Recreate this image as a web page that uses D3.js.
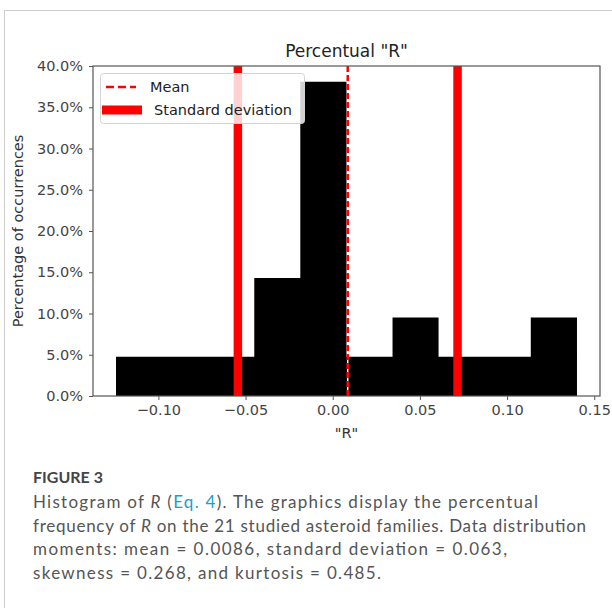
<!DOCTYPE html>
<html>
<head>
<meta charset="utf-8">
<script src="https://cdn.jsdelivr.net/npm/d3@7/dist/d3.min.js"></script>
<style>
  html, body { margin: 0; padding: 0; background: #fff; }
  svg { display: block; }
</style>
</head>
<body>
<svg id="chart" width="612" height="608"></svg>
<script>
// ---- data ----
const binEdges = [-0.1243, -0.0979, -0.0714, -0.0450, -0.0186, 0.0079, 0.0343, 0.0607, 0.0872, 0.1136, 0.1401];
const percentages = [4.76, 4.76, 4.76, 14.29, 38.10, 4.76, 9.52, 4.76, 4.76, 9.52];
const meanValue = 0.0086;
const stdLines = [-0.0544, 0.0716];
const xTicks = [-0.10, -0.05, 0.00, 0.05, 0.10, 0.15];
const yTicks = [0, 5, 10, 15, 20, 25, 30, 35, 40];
const legendLabels = ["Mean", "Standard deviation"];
const titleText = 'Percentual "R"';
const xLabel = '"R"';
const yLabel = "Percentage of occurrences";

const svg = d3.select("#chart");
const mplFont = "'DejaVu Sans', sans-serif";

// outer frame of the figure panel
svg.append("rect").attr("x", 4.5).attr("y", 10.5).attr("width", 700).attr("height", 700)
  .attr("fill", "none").attr("stroke", "#cfcfcf").attr("stroke-width", 1);

const x = d3.scaleLinear().domain([-0.1375, 0.1533]).range([93, 600]);
const y = d3.scaleLinear().domain([0, 40]).range([396, 66]);

const bins = percentages.map((p, i) => ({ x0: binEdges[i], x1: binEdges[i + 1], p }));

// bars drawn as one stepped histogram outline (no seams between bins)
const stepPts = [];
bins.forEach(b => { stepPts.push([b.x0, b.p]); });
stepPts.push([bins[bins.length - 1].x1, bins[bins.length - 1].p]);
const area = d3.area()
  .x(d => x(d[0])).y0(y(0)).y1(d => y(d[1]))
  .curve(d3.curveStepAfter);
svg.append("path").datum(stepPts).attr("d", area).attr("fill", "#000");

// std lines
svg.append("g").selectAll("line").data(stdLines).join("line")
  .attr("x1", d => x(d)).attr("x2", d => x(d))
  .attr("y1", y(0)).attr("y2", y(40))
  .attr("stroke", "#ff0000").attr("stroke-width", 8.5);

// mean line
svg.append("line").attr("x1", x(meanValue)).attr("x2", x(meanValue))
  .attr("y1", y(0)).attr("y2", y(40))
  .attr("stroke", "#fff").attr("stroke-width", 1.5);
svg.append("line").attr("x1", x(meanValue)).attr("x2", x(meanValue))
  .attr("y1", y(0)).attr("y2", y(40))
  .attr("stroke", "#ff0000").attr("stroke-width", 2.5).attr("stroke-dasharray", "6,3");

// axes
const axisColor = "#555";
const xAxis = svg.append("g").attr("transform", `translate(0,${y(0)})`)
  .call(d3.axisBottom(x).tickValues(xTicks).tickFormat(d3.format(".2f")).tickSizeOuter(0).tickSize(4).tickPadding(5));
const yAxis = svg.append("g").attr("transform", `translate(${x.range()[0]},0)`)
  .call(d3.axisLeft(y).tickValues(yTicks).tickFormat(d => d.toFixed(1) + "%").tickSizeOuter(0).tickSize(4).tickPadding(6));
[xAxis, yAxis].forEach(g => {
  g.select(".domain").remove();
  g.selectAll(".tick line").attr("stroke", axisColor);
  g.selectAll(".tick text").attr("fill", "#444").style("font-family", mplFont).style("font-size", "14.5px");
});

// spines
svg.append("rect").attr("x", x.range()[0]).attr("y", y(40))
  .attr("width", x.range()[1] - x.range()[0]).attr("height", y(0) - y(40))
  .attr("fill", "none").attr("stroke", axisColor).attr("stroke-width", 1.2);

// title and labels
svg.append("text").attr("x", (x.range()[0] + x.range()[1]) / 2).attr("y", 57)
  .attr("text-anchor", "middle").attr("fill", "#222")
  .style("font-family", mplFont).style("font-size", "17px").text(titleText);
svg.append("text").attr("x", (x.range()[0] + x.range()[1]) / 2).attr("y", 438)
  .attr("text-anchor", "middle").attr("fill", "#333")
  .style("font-family", mplFont).style("font-size", "14.5px").text(xLabel);
svg.append("text").attr("transform", `translate(18,${(y(0) + y(40)) / 2}) rotate(-90)`)
  .attr("text-anchor", "middle").attr("dominant-baseline", "central").attr("fill", "#333")
  .style("font-family", mplFont).style("font-size", "14.5px").text(yLabel);

// legend
const lg = svg.append("g");
lg.append("rect").attr("x", 100.5).attr("y", 73.5).attr("width", 204).attr("height", 50).attr("rx", 3)
  .attr("fill", "rgba(255,255,255,0.82)").attr("stroke", "#d4d4d4").attr("stroke-width", 1);
lg.append("line").attr("x1", 106).attr("x2", 136).attr("y1", 87).attr("y2", 87)
  .attr("stroke", "#ff0000").attr("stroke-width", 2.5).attr("stroke-dasharray", "8,4");
lg.append("line").attr("x1", 102).attr("x2", 142).attr("y1", 110).attr("y2", 110)
  .attr("stroke", "#ff0000").attr("stroke-width", 9);
lg.append("text").attr("x", 150).attr("y", 92).attr("fill", "#222")
  .style("font-family", mplFont).style("font-size", "14.5px").text(legendLabels[0]);
lg.append("text").attr("x", 154).attr("y", 115).attr("fill", "#222")
  .style("font-family", mplFont).style("font-size", "14.5px").text(legendLabels[1]);

// caption
const capFont = "Lato, 'Open Sans', sans-serif";
const capColor = "#555";
svg.append("text").attr("x", 33).attr("y", 483).attr("fill", "#444")
  .style("font-family", capFont).style("font-size", "16px").style("font-weight", "bold").text("FIGURE 3");

const capLines = [
  { y: 508, len: 505, parts: [["Histogram of ", null], ["R", "i"], [" (", null], ["Eq. 4", "link"], ["). The graphics display the percentual", null]] },
  { y: 531.5, len: 553, parts: [["frequency of ", null], ["R", "i"], [" on the 21 studied asteroid families. Data distribution", null]] },
  { y: 555, len: 474, parts: [["moments: mean = 0.0086, standard deviation = 0.063,", null]] },
  { y: 578.5, len: 348, parts: [["skewness = 0.268, and kurtosis = 0.485.", null]] }
];
capLines.forEach(line => {
  const t = svg.append("text").attr("x", 33).attr("y", line.y).attr("fill", capColor)
    .attr("textLength", line.len).attr("lengthAdjust", "spacing")
    .style("font-family", capFont).style("font-size", "17px");
  line.parts.forEach(([s, kind]) => {
    const ts = t.append("tspan").text(s);
    if (kind === "i") ts.style("font-style", "italic");
    if (kind === "link") ts.attr("fill", "#1a9fc9");
  });
});
</script>
</body>
</html>
